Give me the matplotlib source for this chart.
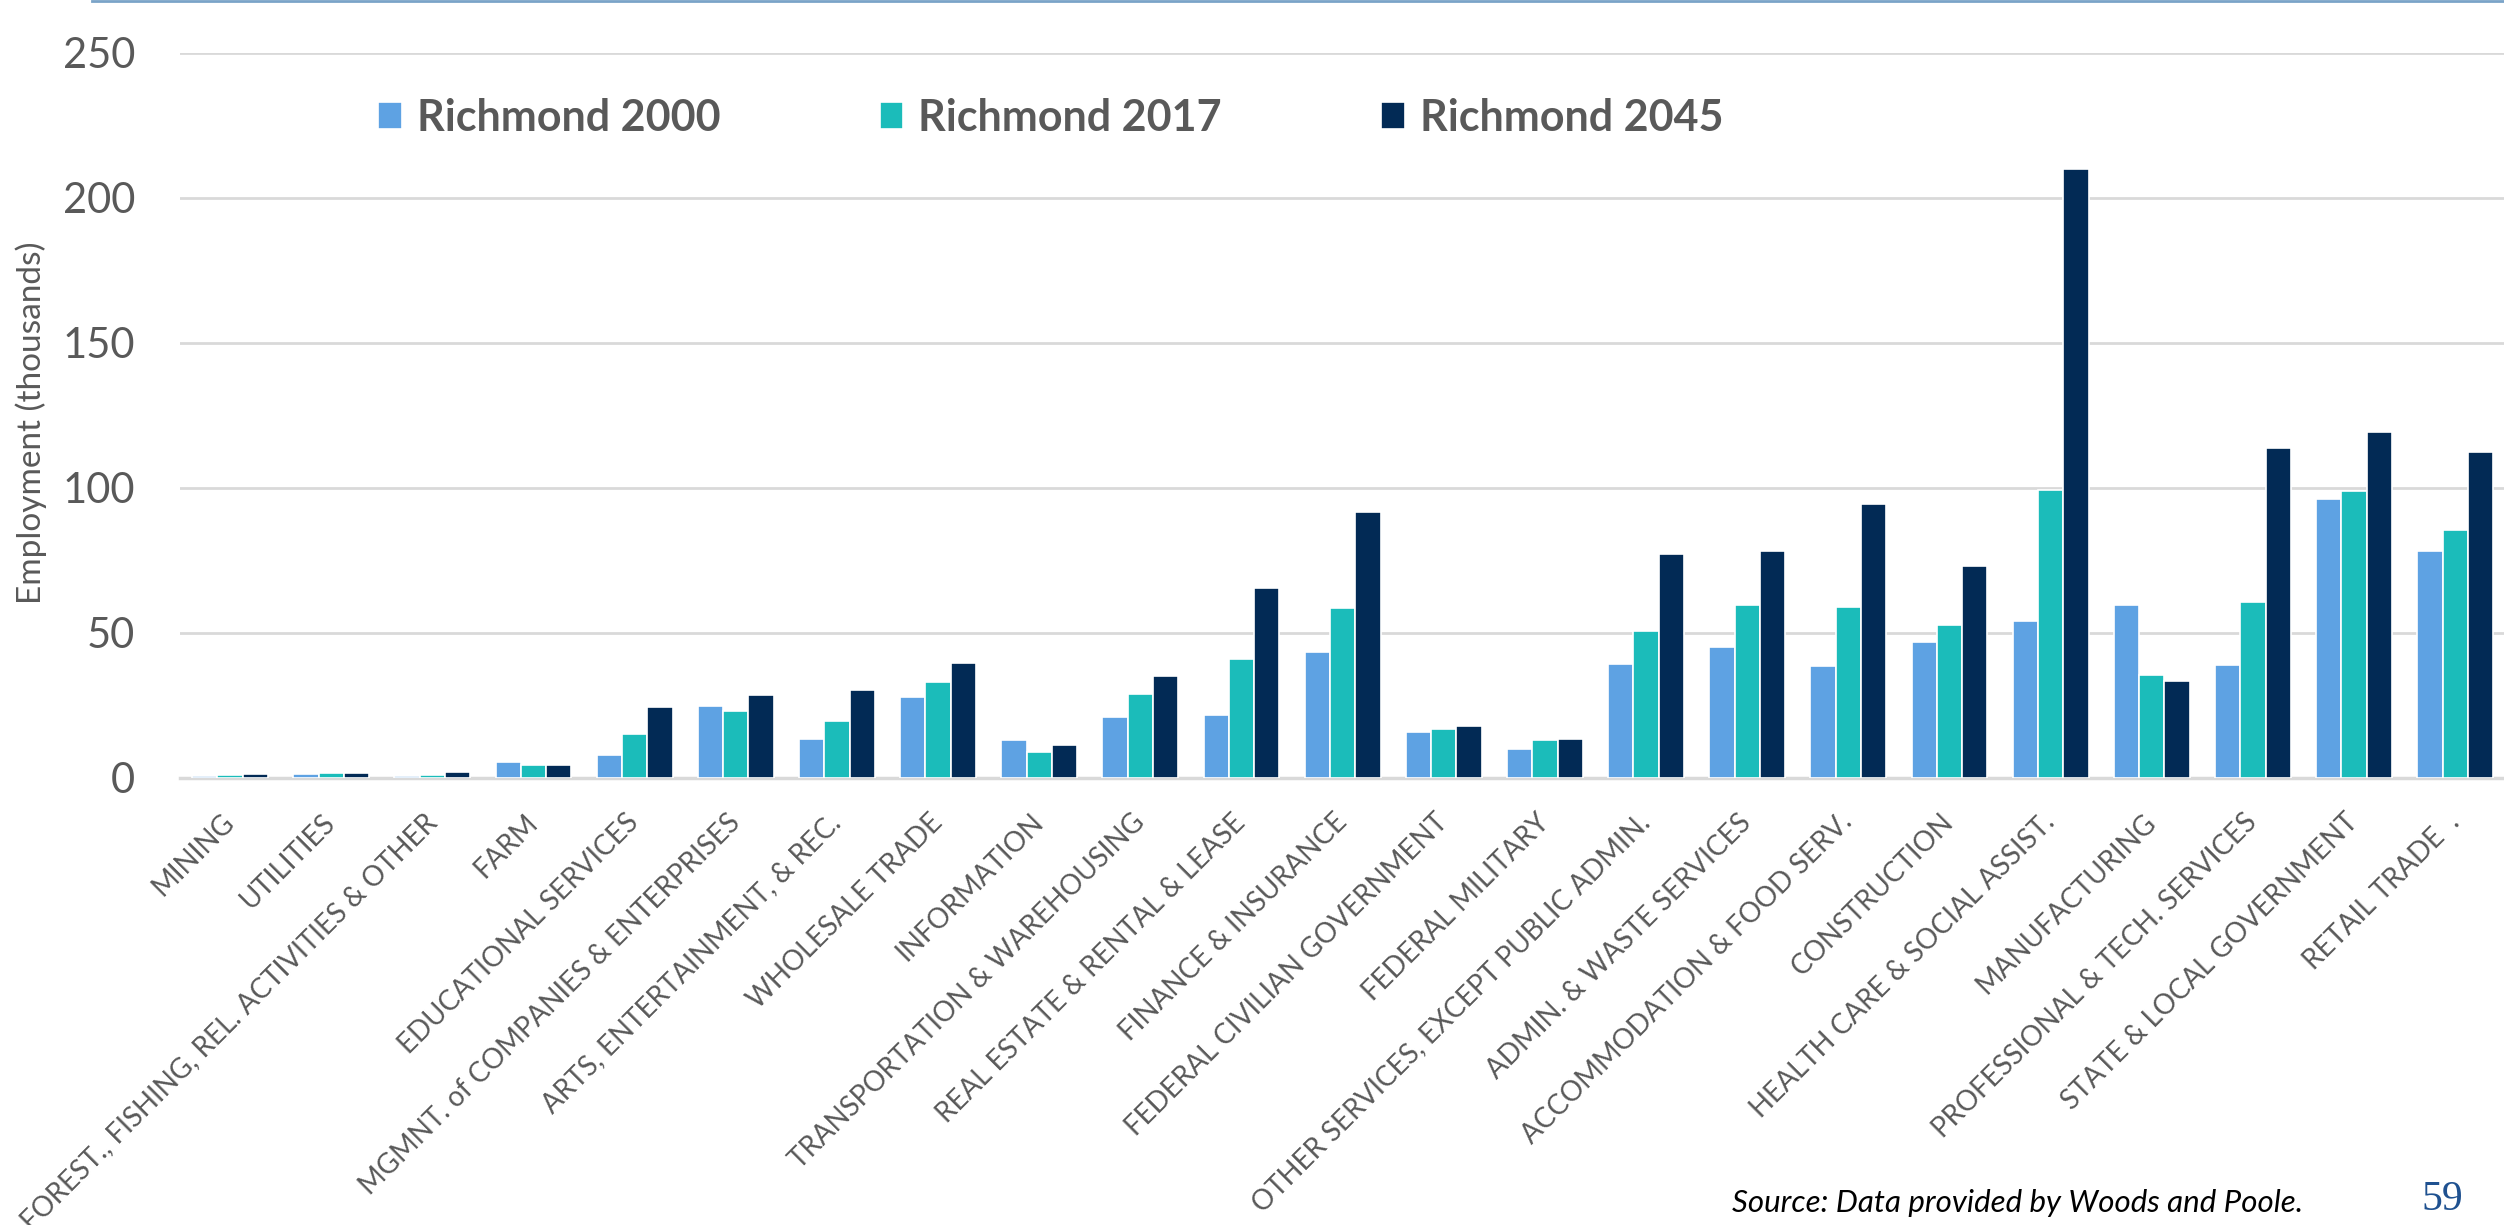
import matplotlib
matplotlib.use("Agg")
import matplotlib.pyplot as plt
from matplotlib.lines import Line2D
import numpy as np

plt.rcParams['font.family'] = ['Lato', 'DejaVu Sans']

categories = [
    "MINING", "UTILITIES", "FOREST., FISHING, REL. ACTIVITIES & OTHER", "FARM",
    "EDUCATIONAL SERVICES", "MGMNT. of COMPANIES & ENTERPRISES",
    "ARTS, ENTERTAINMENT, & REC.", "WHOLESALE TRADE", "INFORMATION",
    "TRANSPORTATION & WAREHOUSING", "REAL ESTATE & RENTAL & LEASE",
    "FINANCE & INSURANCE", "FEDERAL CIVILIAN GOVERNMENT", "FEDERAL MILITARY",
    "OTHER SERVICES, EXCEPT PUBLIC ADMIN.", "ADMIN. & WASTE SERVICES",
    "ACCOMMODATION & FOOD SERV.", "CONSTRUCTION", "HEALTH CARE & SOCIAL ASSIST.",
    "MANUFACTURING", "PROFESSIONAL & TECH. SERVICES", "STATE & LOCAL GOVERNMENT",
    "RETAIL TRADE  .",
]
series_names = ["Richmond 2000", "Richmond 2017", "Richmond 2045"]
v2000 = [0.7, 1.3, 0.7, 5.5, 7.8, 24.7, 13.6, 28.0, 13.1, 21.0, 21.6, 43.6,
         15.9, 9.9, 39.2, 45.1, 38.5, 46.8, 54.2, 59.7, 38.9, 96.3, 78.2]
v2017 = [1.0, 1.6, 1.0, 4.5, 15.2, 23.1, 19.5, 33.1, 8.9, 28.8, 41.1, 58.5,
         16.9, 13.2, 50.8, 59.7, 58.8, 52.9, 99.4, 35.5, 60.5, 98.8, 85.4]
v2045 = [1.4, 1.7, 1.9, 4.4, 24.3, 28.6, 30.5, 39.7, 11.5, 35.0, 65.4, 91.7,
         17.8, 13.4, 77.3, 78.1, 94.5, 73.2, 209.8, 33.5, 113.8, 119.1, 112.5]
y_ticks = [0, 50, 100, 150, 200, 250]

colors = ["#5ea2e3", "#1bbcba", "#022a55"]
grey = "#595959"

fig = plt.figure(figsize=(25.04, 12.25), dpi=100)
ax = fig.add_axes([0.0717, 0.3649, 0.9290, 0.5921])

x = np.arange(len(categories))
w = 0.25
for i, (vals, name) in enumerate(zip([v2000, v2017, v2045], series_names)):
    ax.bar(x + (i - 1) * w, vals, width=w, color=colors[i], edgecolor="white",
           linewidth=1.2, label=name, zorder=3)

ax.set_xlim(-0.5, len(categories) - 0.5)
ax.set_ylim(0, 250)
ax.set_yticks(y_ticks)
ax.yaxis.grid(True, color="#d9d9d9", linewidth=2, zorder=0)
ax.set_axisbelow(True)
for s in ["top", "right", "left"]:
    ax.spines[s].set_visible(False)
ax.spines["bottom"].set_color("#d9d9d9")
ax.spines["bottom"].set_linewidth(2.5)
ax.tick_params(axis="y", length=0, pad=32, labelsize=30, labelcolor=grey)
ax.tick_params(axis="x", length=0, pad=29, labelsize=20, labelcolor=grey)
ax.set_xticks(x)
ax.set_xticklabels(categories, rotation=45, ha="right", va="center",
                   rotation_mode="anchor")

ax.set_ylabel("Employment (thousands)", fontsize=24, color=grey)
ax.yaxis.set_label_coords(-0.057, 0.49)

ax.legend(loc="center left", bbox_to_anchor=(378 / 2504, 0.9037),
          bbox_transform=fig.transFigure, ncol=3, frameon=False,
          prop={"weight": "bold", "size": 31}, labelcolor=grey,
          handlelength=0.55, handleheight=0.6, handletextpad=0.35,
          columnspacing=3.7, borderpad=0, borderaxespad=0)

fig.add_artist(Line2D([92 / 2504, 1], [0.999, 0.999], color="#7aa3c8",
                      linewidth=2, transform=fig.transFigure))

fig.text(1732 / 2504, 1 - 1203 / 1225, "Source: Data provided by Woods and Poole.",
         fontsize=22.5, style="italic", color="black", va="center", ha="left")
fig.text(2442 / 2504, 1 - 1200 / 1225, "59", fontsize=30, color="#1f5190",
         family=["Liberation Serif", "DejaVu Serif"], va="center", ha="center")

fig.savefig("out.png", dpi=100)
